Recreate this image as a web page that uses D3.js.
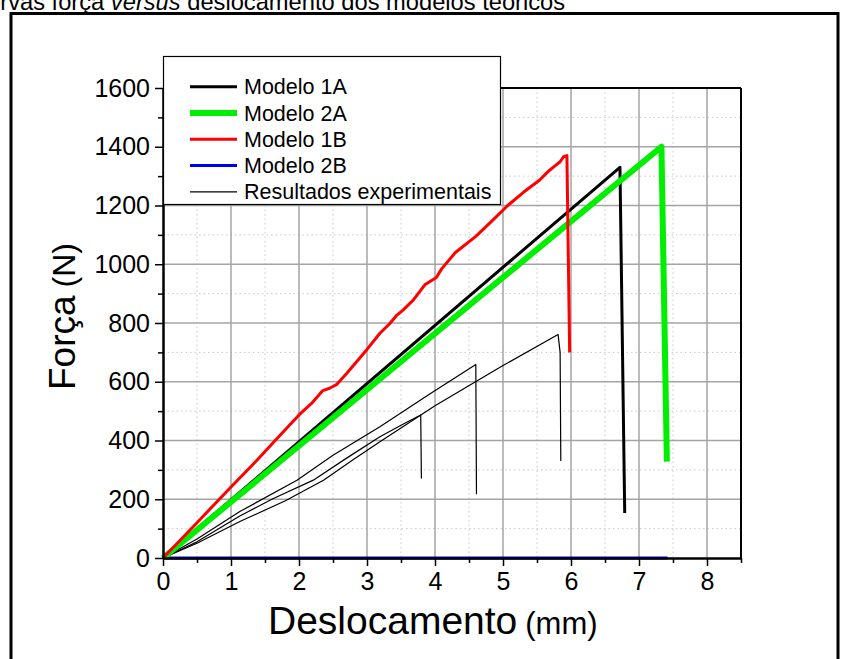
<!DOCTYPE html>
<html>
<head>
<meta charset="utf-8">
<script src="https://cdn.jsdelivr.net/npm/d3@7"></script>
<style>
  html, body { margin: 0; padding: 0; background: #fff; }
  svg { display: block; }
  text { font-family: "Liberation Sans", Arial, sans-serif; fill: #000; }
</style>
</head>
<body>
<svg id="chart" width="843" height="659"></svg>
<script>
// Force–displacement curves (displacement in mm, force in N)
const modelo1A = [[0, 0], [6.72, 1330], [6.79, 153]];
const modelo2A = [[0, 0], [7.33, 1400], [7.41, 328]];
const modelo1B = [
  [0, 0], [0.5, 120], [1.0, 242], [1.35, 325], [1.65, 400], [2.0, 487], [2.2, 530],
  [2.35, 570], [2.45, 578], [2.55, 590], [2.7, 628], [3.0, 710], [3.19, 765],
  [3.34, 799], [3.44, 827], [3.53, 844], [3.63, 867], [3.68, 878], [3.85, 930],
  [3.95, 945], [4.02, 955], [4.1, 985], [4.3, 1040], [4.6, 1095], [4.85, 1150],
  [5.07, 1200], [5.3, 1245], [5.54, 1287], [5.64, 1310], [5.69, 1321], [5.76, 1334],
  [5.84, 1349], [5.89, 1366], [5.94, 1370], [5.98, 700]
];
const modelo2B = [[0, 0], [7.42, 0]];
const experimental1 = [
  [0, 0], [0.5, 55], [1.13, 143], [1.6, 200], [2.21, 265], [2.7, 340], [3.19, 413],
  [3.5, 452], [3.79, 487], [3.8, 271]
];
const experimental2 = [
  [0, 0], [0.5, 65], [1.13, 158], [1.97, 265], [2.5, 350], [3.19, 447], [3.9, 555],
  [4.6, 659], [4.61, 217]
];
const experimental3 = [
  [0, 0], [0.5, 50], [1.13, 124], [1.8, 195], [2.36, 265], [2.8, 335], [3.19, 396],
  [4.0, 518], [5.0, 655], [5.81, 761], [5.84, 700], [5.85, 330]
];

const xTicks = [0, 1, 2, 3, 4, 5, 6, 7, 8];
const yTicks = [0, 200, 400, 600, 800, 1000, 1200, 1400, 1600];
const xMinorTicks = [0.5, 1.5, 2.5, 3.5, 4.5, 5.5, 6.5, 7.5, 8.5];
const yMinorTicks = [100, 300, 500, 700, 900, 1100, 1300, 1500];

const legendLabels = ["Modelo 1A", "Modelo 2A", "Modelo 1B", "Modelo 2B", "Resultados experimentais"];

const series = [
  { name: legendLabels[0], data: modelo1A, color: "#000000", width: 3 },
  { name: legendLabels[1], data: modelo2A, color: "#00ee00", width: 6 },
  { name: legendLabels[2], data: modelo1B, color: "#ff0000", width: 3 },
  { name: legendLabels[3], data: modelo2B, color: "#0000ee", width: 3 },
  { name: legendLabels[4], data: experimental1, color: "#000000", width: 1.2 },
  { name: legendLabels[4], data: experimental2, color: "#000000", width: 1.2 },
  { name: legendLabels[4], data: experimental3, color: "#000000", width: 1.2 }
];

const svg = d3.select("#chart");
const plotLeft = 163, plotRight = 741, plotTop = 88, plotBottom = 558;

const x = d3.scaleLinear().domain([0, 8.5]).range([plotLeft, plotRight]);
const y = d3.scaleLinear().domain([0, 1600]).range([plotBottom, plotTop]);

// Title, partly above the page edge
const title = svg.append("text").attr("x", -30).attr("y", 10).style("font-size", "23.7px");
title.append("tspan").text("Curvas força ");
title.append("tspan").style("font-style", "italic").text("versus");
title.append("tspan").text(" deslocamento dos modelos teóricos");

// Outer frame
svg.append("rect").attr("x", 11).attr("y", 13.5).attr("width", 827).attr("height", 700)
  .attr("fill", "none").attr("stroke", "#000").attr("stroke-width", 3);

// Grid
const grid = svg.append("g");
grid.selectAll(".gxm").data(xMinorTicks.filter(d => d < 8.5)).join("line")
  .attr("x1", d => x(d)).attr("x2", d => x(d)).attr("y1", plotTop).attr("y2", plotBottom)
  .attr("stroke", "#c8c8c8").attr("stroke-width", 1).attr("stroke-dasharray", "1.5,3");
grid.selectAll(".gym").data(yMinorTicks).join("line")
  .attr("y1", d => y(d)).attr("y2", d => y(d)).attr("x1", plotLeft).attr("x2", plotRight)
  .attr("stroke", "#c8c8c8").attr("stroke-width", 1).attr("stroke-dasharray", "1.5,3");
grid.selectAll(".gx").data(xTicks.slice(1)).join("line")
  .attr("x1", d => x(d)).attr("x2", d => x(d)).attr("y1", plotTop).attr("y2", plotBottom)
  .attr("stroke", "#a4a4a4").attr("stroke-width", 1.5);
grid.selectAll(".gy").data(yTicks.slice(1, -1)).join("line")
  .attr("y1", d => y(d)).attr("y2", d => y(d)).attr("x1", plotLeft).attr("x2", plotRight)
  .attr("stroke", "#a4a4a4").attr("stroke-width", 1.5);

// Curves
const line = d3.line().x(d => x(d[0])).y(d => y(d[1]));
const drawOrder = [4, 5, 6, 3, 0, 1, 2];
svg.append("g").selectAll("path").data(drawOrder.map(i => series[i])).join("path")
  .attr("d", d => line(d.data))
  .attr("fill", "none")
  .attr("stroke", d => d.color)
  .attr("stroke-width", d => d.width)
  .attr("stroke-linejoin", "round");

// Plot frame (top and right)
svg.append("line").attr("x1", plotLeft).attr("x2", plotRight).attr("y1", plotTop).attr("y2", plotTop)
  .attr("stroke", "#000").attr("stroke-width", 2);
svg.append("line").attr("x1", plotRight).attr("x2", plotRight).attr("y1", plotTop).attr("y2", plotBottom)
  .attr("stroke", "#000").attr("stroke-width", 2);

// Axes
const xAxis = svg.append("g").attr("transform", `translate(0,${plotBottom})`)
  .call(d3.axisBottom(x).tickValues(xTicks).tickFormat(d3.format("d")).tickSize(8).tickSizeOuter(0).tickPadding(6));
const xMinor = svg.append("g").attr("transform", `translate(0,${plotBottom})`)
  .call(d3.axisBottom(x).tickValues(xMinorTicks).tickFormat("").tickSize(5).tickSizeOuter(0));
const yAxis = svg.append("g").attr("transform", `translate(${plotLeft},0)`)
  .call(d3.axisLeft(y).tickValues(yTicks).tickFormat(d3.format("d")).tickSize(8).tickSizeOuter(0).tickPadding(5));
const yMinor = svg.append("g").attr("transform", `translate(${plotLeft},0)`)
  .call(d3.axisLeft(y).tickValues(yMinorTicks).tickFormat("").tickSize(5).tickSizeOuter(0));

[xAxis, xMinor, yAxis, yMinor].forEach(g => {
  g.select(".domain").attr("stroke", "#000").attr("stroke-width", 2);
  g.selectAll(".tick line").attr("stroke", "#000").attr("stroke-width", 1.5);
  g.selectAll(".tick text").style("font-size", "25px").attr("fill", "#000")
    .style("font-family", "'Liberation Sans', Arial, sans-serif");
});

// Axis titles
const xTitle = svg.append("text").attr("x", 268).attr("y", 634);
xTitle.append("tspan").style("font-size", "39px").text("Deslocamento");
xTitle.append("tspan").attr("dx", 8).style("font-size", "31px").text("(mm)");

const yTitle = svg.append("text")
  .attr("transform", "translate(75,390) rotate(-90)");
yTitle.append("tspan").style("font-size", "37px").text("Força");
yTitle.append("tspan").attr("dx", 8).style("font-size", "32px").text("(N)");

// Legend
const lg = svg.append("g");
lg.append("rect").attr("x", 163.5).attr("y", 56.5).attr("width", 337).attr("height", 148)
  .attr("fill", "#fff").attr("stroke", "#000").attr("stroke-width", 1.2);
const legendItems = series.slice(0, 5);
const rows = lg.selectAll("g.item").data(legendItems).join("g")
  .attr("transform", (d, i) => `translate(0,${86.7 + i * 26.3})`);
rows.append("line").attr("x1", 190).attr("x2", 237).attr("y1", 0).attr("y2", 0)
  .attr("stroke", d => d.color).attr("stroke-width", d => Math.max(d.width, 1.2));
rows.append("text").attr("x", 244).attr("y", 7.5).style("font-size", "21.5px").text(d => d.name);
</script>
</body>
</html>
